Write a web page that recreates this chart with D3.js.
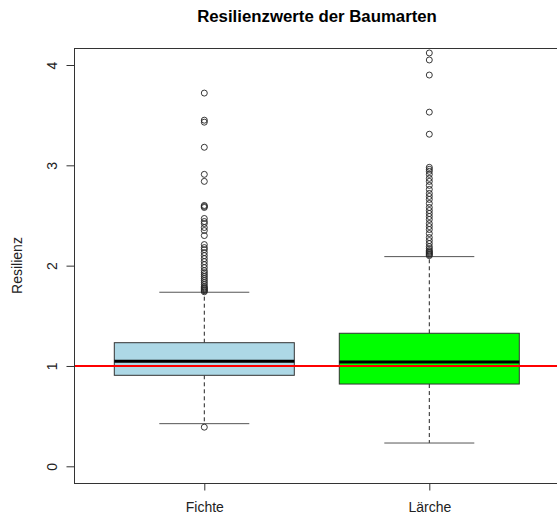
<!DOCTYPE html>
<html>
<head>
<meta charset="utf-8">
<script src="https://cdn.jsdelivr.net/npm/d3@7"></script>
<style>
  body { margin: 0; background: #fff; }
  text { font-family: "Liberation Sans", Arial, sans-serif; }
</style>
</head>
<body>
<div id="chart"></div>
<script>
// Kategorien und Boxplot-Kennwerte (unterer Whisker, Q1, Median, Q3, oberer Whisker)
var categories = ["Fichte", "Lärche"];
var lowerWhisker = [0.425, 0.232];
var q1 = [0.907, 0.82];
var median = [1.047, 1.04];
var q3 = [1.232, 1.326];
var upperWhisker = [1.735, 2.09];
var fills = ["#add8e6", "#00ff00"];

var outliersFichte = [0.39, 3.72, 3.45, 3.43, 3.18, 2.91, 2.84, 2.60, 2.59, 2.58,
  2.47, 2.44, 2.42, 2.38, 2.35, 2.30, 2.21, 2.18, 2.16, 2.13, 2.10, 2.07, 2.04,
  2.01, 1.98, 1.95, 1.93, 1.91, 1.89, 1.87, 1.85, 1.83, 1.81, 1.79, 1.78, 1.77,
  1.76, 1.75, 1.74];
var outliersLaerche = [4.12, 4.05, 3.90, 3.53, 3.31, 2.98, 2.96, 2.94, 2.91, 2.87,
  2.84, 2.80, 2.76, 2.72, 2.69, 2.66, 2.62, 2.58, 2.55, 2.52, 2.49, 2.46, 2.42,
  2.39, 2.36, 2.32, 2.28, 2.25, 2.22, 2.19, 2.17, 2.15, 2.14, 2.13, 2.12, 2.11, 2.10];
var outliers = [outliersFichte, outliersLaerche];

var yTicks = [0, 1, 2, 3, 4];
var refLine = 1;

var W = 557, H = 519;
var plot = {left: 74, right: 560, top: 48, bottom: 483};

var svg = d3.select("#chart").append("svg")
    .attr("width", W)
    .attr("height", H);

var x = d3.scaleLinear().domain([1, 2]).range([204.3, 429.3]);
var y = d3.scaleLinear().domain([0, 4]).range([466.3, 65]);
var halfBox = 0.4, halfCap = 0.2;

var data = categories.map(function(c, i) {
  return {name: c, lo: lowerWhisker[i], q1: q1[i], med: median[i], q3: q3[i],
          hi: upperWhisker[i], fill: fills[i], out: outliers[i], pos: i + 1};
});

var g = svg.append("g");

var box = g.selectAll("g.box")
  .data(data)
  .enter().append("g")
    .attr("class", "box");

// Whisker (gestrichelt)
box.append("line")
    .attr("x1", function(d) { return x(d.pos); })
    .attr("x2", function(d) { return x(d.pos); })
    .attr("y1", function(d) { return y(d.q3); })
    .attr("y2", function(d) { return y(d.hi); })
    .attr("stroke", "#222").attr("stroke-dasharray", "4,3");
box.append("line")
    .attr("x1", function(d) { return x(d.pos); })
    .attr("x2", function(d) { return x(d.pos); })
    .attr("y1", function(d) { return y(d.q1); })
    .attr("y2", function(d) { return y(d.lo); })
    .attr("stroke", "#222").attr("stroke-dasharray", "4,3");

// Kappen
["lo", "hi"].forEach(function(k) {
  box.append("line")
      .attr("x1", function(d) { return x(d.pos - halfCap); })
      .attr("x2", function(d) { return x(d.pos + halfCap); })
      .attr("y1", function(d) { return y(d[k]); })
      .attr("y2", function(d) { return y(d[k]); })
      .attr("stroke", "#555");
});

box.append("rect")
    .attr("x", function(d) { return x(d.pos - halfBox); })
    .attr("width", function(d) { return x(d.pos + halfBox) - x(d.pos - halfBox); })
    .attr("y", function(d) { return y(d.q3); })
    .attr("height", function(d) { return y(d.q1) - y(d.q3); })
    .attr("fill", function(d) { return d.fill; })
    .attr("stroke", "#333");

box.append("line")
    .attr("x1", function(d) { return x(d.pos - halfBox); })
    .attr("x2", function(d) { return x(d.pos + halfBox); })
    .attr("y1", function(d) { return y(d.med); })
    .attr("y2", function(d) { return y(d.med); })
    .attr("stroke", "#000").attr("stroke-width", 3);

box.selectAll("circle")
  .data(function(d) { return d.out.map(function(v) { return {pos: d.pos, v: v}; }); })
  .enter().append("circle")
    .attr("cx", function(d) { return x(d.pos); })
    .attr("cy", function(d) { return y(d.v); })
    .attr("r", 3)
    .attr("fill", "none")
    .attr("stroke", "#222")
    .attr("stroke-width", 0.9);

// Referenzlinie
g.append("line")
    .attr("x1", plot.left).attr("x2", plot.right)
    .attr("y1", y(refLine)).attr("y2", y(refLine))
    .attr("stroke", "#ff0000").attr("stroke-width", 2);

// Rahmen
g.append("rect")
    .attr("x", plot.left + 0.5).attr("y", plot.top + 0.5)
    .attr("width", plot.right - plot.left).attr("height", plot.bottom - plot.top)
    .attr("fill", "none").attr("stroke", "#333");

// y-Achse
var yAxis = svg.append("g")
    .attr("transform", "translate(" + (plot.left + 0.5) + ",0)")
    .call(d3.axisLeft(y).tickValues(yTicks).tickSize(8).tickPadding(0).tickFormat(d3.format("d")));
yAxis.select(".domain").remove();
yAxis.selectAll("line").attr("stroke", "#333");
yAxis.selectAll("text").remove();
yAxis.selectAll(".tick").append("text")
    .attr("transform", "translate(-22,0) rotate(-90)")
    .attr("text-anchor", "middle")
    .attr("dy", "0.35em")
    .attr("fill", "#222")
    .style("font-size", "14px")
    .text(function(d) { return d; });

// x-Achse
var xAxis = svg.append("g")
    .attr("transform", "translate(0," + (plot.bottom + 0.5) + ")")
    .call(d3.axisBottom(x).tickValues([1, 2]).tickSize(7).tickPadding(0)
      .tickFormat(function(d) { return categories[d - 1]; }));
xAxis.select(".domain").remove();
xAxis.selectAll("line").attr("stroke", "#333");
xAxis.selectAll("text")
    .attr("y", 28)
    .attr("dy", 0)
    .attr("fill", "#222")
    .style("font-size", "14px")
    .style("font-family", "'Liberation Sans', Arial, sans-serif");

svg.append("text")
    .attr("transform", "translate(22," + ((plot.top + plot.bottom) / 2) + ") rotate(-90)")
    .attr("text-anchor", "middle")
    .attr("fill", "#222")
    .style("font-size", "14px")
    .text("Resilienz");

svg.append("text")
    .attr("x", (plot.left + plot.right) / 2)
    .attr("y", 22)
    .attr("text-anchor", "middle")
    .attr("font-weight", "bold")
    .style("font-size", "16.8px")
    .text("Resilienzwerte der Baumarten");
</script>
</body>
</html>
